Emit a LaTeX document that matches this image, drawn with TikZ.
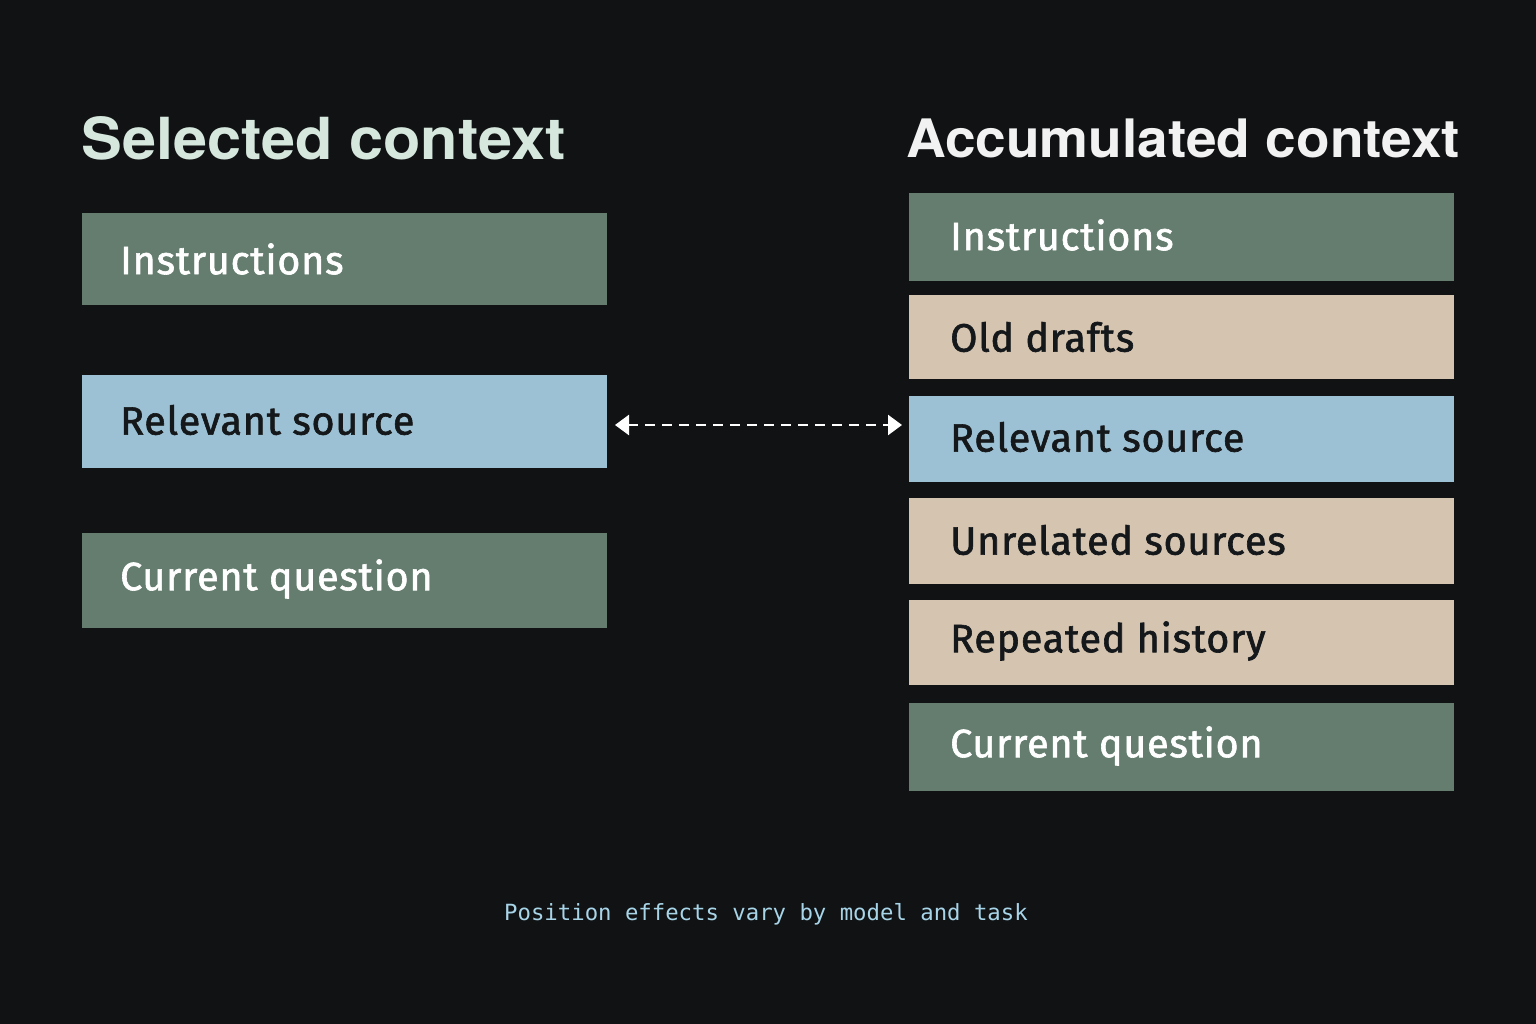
\documentclass[tikz,border=0pt]{standalone}
\usepackage{fontspec}
\setmainfont{Fira Sans}
\newfontfamily\lblfont{Fira Sans}[FakeBold=1.6,LetterSpace=2]
\newfontfamily\titlefont{TeX Gyre Heros}
\newfontfamily\monofont{DejaVu Sans Mono}
\usetikzlibrary{arrows.meta}
\definecolor{bg}{HTML}{101214}
\definecolor{boxgreen}{HTML}{647D6E}
\definecolor{boxblue}{HTML}{9DC1D4}
\definecolor{boxbeige}{HTML}{D4C4B0}
\definecolor{titlegreen}{HTML}{D6E8DD}
\definecolor{titlewhite}{HTML}{F2F2F2}
\definecolor{foot}{HTML}{A8D4E8}
\definecolor{darktext}{HTML}{15181A}
\begin{document}
\begin{tikzpicture}[x=1pt,y=-1pt,
  lbl/.style={anchor=west,font=\lblfont\fontsize{39.5}{44}\selectfont,inner sep=0pt},
  ttl/.style={anchor=base west,inner sep=0pt}]
\fill[bg] (0,0) rectangle (1536,1024);
\useasboundingbox (0,0) rectangle (1536,1024);
% titles
\node[ttl,text=titlegreen,font=\titlefont\bfseries\fontsize{58}{64}\selectfont] (t1) at (81,160) {\scalebox{1.055}[1]{Selected context}};
\node[ttl,text=titlewhite,font=\titlefont\bfseries\fontsize{53}{60}\selectfont] (t2) at (906,158) {\scalebox{1.038}[1]{Accumulated context}};
% left boxes
\fill[boxgreen] (82,213) rectangle (607,305);
\node[lbl,text=white] (l1) at (120,259) {Instructions};
\fill[boxblue] (82,375) rectangle (607,468);
\node[lbl,text=darktext] (l2) at (120,420) {Relevant source};
\coordinate (la) at (607,425);
\fill[boxgreen] (82,533) rectangle (607,628);
\node[lbl,text=white] (l3) at (120,579) {Current question};
% right boxes
\fill[boxgreen] (909,193) rectangle (1454,281);
\node[lbl,text=white] (r1) at (950,235) {Instructions};
\fill[boxbeige] (909,295) rectangle (1454,379);
\node[lbl,text=darktext] (r2) at (950,337) {Old drafts};
\fill[boxblue] (909,396) rectangle (1454,482);
\node[lbl,text=darktext] (r3) at (950,437) {Relevant source};
\coordinate (ra) at (909,425);
\fill[boxbeige] (909,498) rectangle (1454,584);
\node[lbl,text=darktext] (r4) at (950,540) {Unrelated sources};
\fill[boxbeige] (909,600) rectangle (1454,685);
\node[lbl,text=darktext] (r5) at (950,641) {Repeated history};
\fill[boxgreen] (909,703) rectangle (1454,791);
\node[lbl,text=white] (r6) at (950,746) {Current question};
% arrow
\draw[white,line width=2.5pt,dash pattern=on 10pt off 7pt,
  {Triangle[width=20pt,length=14pt]}-{Triangle[width=20pt,length=14pt]}]
  ([xshift=8pt]la) -- ([xshift=-7pt]ra);
% footer
\node[anchor=center,inner sep=0pt,text=foot,font=\monofont\fontsize{22.3}{26}\selectfont] (foot) at (766,914) {Position effects vary by model and task};
\end{tikzpicture}
\end{document}
